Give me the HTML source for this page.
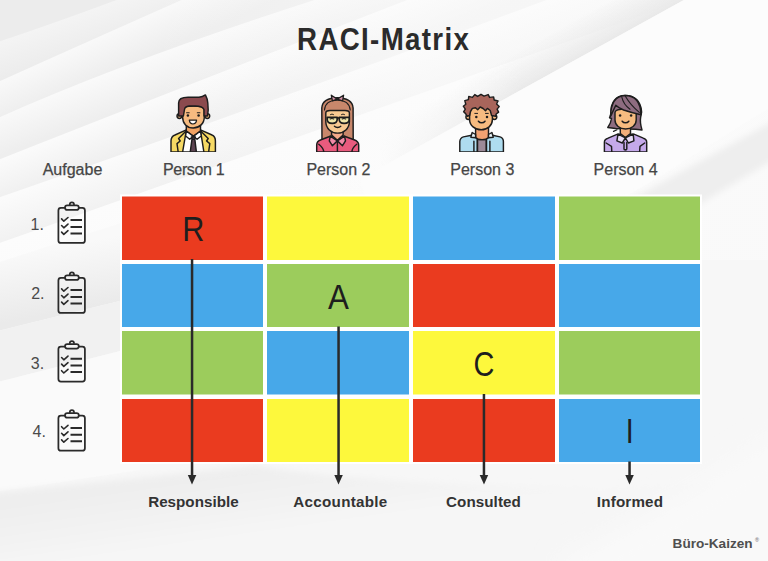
<!DOCTYPE html>
<html><head><meta charset="utf-8"><title>RACI-Matrix</title>
<style>
html,body{margin:0;padding:0;width:768px;height:561px;overflow:hidden;background:#f3f3f3;}
svg{display:block;position:absolute;left:0;top:0;}
text{font-family:"Liberation Sans",sans-serif;}
</style></head><body>
<svg width="768" height="561" viewBox="0 0 768 561">
<defs>
<filter id="b12" x="-20%" y="-20%" width="140%" height="140%"><feGaussianBlur stdDeviation="12"/></filter>
<filter id="b1" x="-5%" y="-5%" width="110%" height="110%"><feGaussianBlur stdDeviation="0.6"/></filter>
<filter id="b3" x="-10%" y="-10%" width="120%" height="120%"><feGaussianBlur stdDeviation="3"/></filter>
<linearGradient id="g0" gradientUnits="userSpaceOnUse" x1="52.5" y1="23.2" x2="65.8" y2="61.0"><stop offset="0" stop-color="#f4f4f4"/><stop offset="1" stop-color="#ebebeb"/></linearGradient>
<linearGradient id="g1" gradientUnits="userSpaceOnUse" x1="83.8" y1="43.5" x2="99.2" y2="78.2"><stop offset="0" stop-color="#f9f9f9"/><stop offset="1" stop-color="#ededed"/></linearGradient>
<linearGradient id="g2" gradientUnits="userSpaceOnUse" x1="137.5" y1="61.2" x2="151.5" y2="98.7"><stop offset="0" stop-color="#fafafa"/><stop offset="1" stop-color="#eeeeee"/></linearGradient>
<linearGradient id="g3" gradientUnits="userSpaceOnUse" x1="185.0" y1="86.5" x2="199.6" y2="123.8"><stop offset="0" stop-color="#fbfbfb"/><stop offset="1" stop-color="#efefef"/></linearGradient>
<linearGradient id="g4" gradientUnits="userSpaceOnUse" x1="235.0" y1="113.8" x2="251.3" y2="158.9"><stop offset="0" stop-color="#fbfbfb"/><stop offset="1" stop-color="#f0f0f0"/></linearGradient>
<linearGradient id="g5" gradientUnits="userSpaceOnUse" x1="300.0" y1="136.2" x2="366.8" y2="324.8"><stop offset="0" stop-color="#fcfcfc"/><stop offset="1" stop-color="#f7f7f7"/></linearGradient>
</defs>
<rect x="0" y="0" width="768" height="561" fill="#ececec"/>
<g filter="url(#b1)">
<path d="M-20 48 Q50 25 130 -5 L900 -5 L900 700 L-20 700 Z" fill="url(#g0)"/>
<path d="M-20 90 Q80 45 195 -6 L900 -5 L900 700 L-20 700 Z" fill="url(#g1)"/>
<path d="M-20 126 Q120 62 330 -5 L900 -5 L900 700 L-20 700 Z" fill="url(#g2)"/>
<path d="M-20 167 Q170 92 420 -5 L900 -5 L900 700 L-20 700 Z" fill="url(#g3)"/>
<path d="M-20 204 Q200 128 560 -5 L900 -5 L900 700 L-20 700 Z" fill="url(#g4)"/>
<path d="M-20 250 Q260 150 700 -5 L900 -5 L900 700 L-20 700 Z" fill="url(#g5)"/>
</g>

<linearGradient id="wfade" gradientUnits="userSpaceOnUse" x1="150" y1="0" x2="420" y2="0"><stop offset="0" stop-color="#fcfcfc" stop-opacity="0"/><stop offset="1" stop-color="#fcfcfc" stop-opacity="0.55"/></linearGradient>
<rect x="150" y="0" width="650" height="260" fill="url(#wfade)"/>
<linearGradient id="r1" gradientUnits="userSpaceOnUse" x1="531" y1="84.5" x2="514" y2="54"><stop offset="0" stop-color="#e9e9e9"/><stop offset="1" stop-color="#e9e9e9" stop-opacity="0"/></linearGradient>
<linearGradient id="r1f" gradientUnits="userSpaceOnUse" x1="380" y1="0" x2="520" y2="0"><stop offset="0" stop-color="#fff" stop-opacity="0"/><stop offset="1" stop-color="#fff" stop-opacity="1"/></linearGradient>
<mask id="m1"><rect x="0" y="0" width="768" height="561" fill="url(#r1f)"/></mask>
<path d="M360 179 L702 -10 L682.6 -45 L340.6 144 Z" fill="url(#r1)" mask="url(#m1)" filter="url(#b1)"/>
<path d="M702 -10 L800 -10 L800 90 C730 130 660 180 600 210 L380 250 L360 179 Z" fill="#fcfcfc" filter="url(#b1)"/>
<path d="M600 216.5 L800 106.5 L800 144 L600 264 Z" fill="#eeeeee" filter="url(#b3)"/>
<linearGradient id="l1" gradientUnits="userSpaceOnUse" x1="40" y1="250" x2="52" y2="314"><stop offset="0" stop-color="#f9f9f9"/><stop offset="1" stop-color="#eaeaea"/></linearGradient>
<path d="M-10 265 L140 217 L140 296 L-10 333 Z" fill="url(#l1)" filter="url(#b1)"/>
<path d="M-10 333 L140 296 L140 346 L-10 384 Z" fill="#f1f1f1" filter="url(#b1)"/>
<path d="M-10 384 L140 346 L140 470 L-10 493 Z" fill="#fafafa" filter="url(#b1)"/>
<linearGradient id="lb" gradientUnits="userSpaceOnUse" x1="200" y1="475" x2="210" y2="545"><stop offset="0" stop-color="#eeeeee"/><stop offset="1" stop-color="#f6f6f6"/></linearGradient>
<path d="M-10 493 L256 466 C330 478 450 486 600 488 C680 486 740 482 800 480 L800 600 L-10 600 Z" fill="url(#lb)" filter="url(#b3)"/>
<g filter="url(#b12)">
<path d="M560 560 C640 520 720 470 800 420 L800 600 L560 600 Z" fill="#f9f9f9"/>
</g>
<!-- title -->
<text transform="translate(383,49.6) scale(0.87,1)" x="0" y="0" text-anchor="middle" font-size="31.8" font-weight="bold" fill="#2b2b2b" textLength="197.5" lengthAdjust="spacing">RACI-Matrix</text>
<!-- header labels -->
<g font-size="16" fill="#454545" stroke="#454545" stroke-width="0.25">
<text x="72.5" y="175.3" text-anchor="middle">Aufgabe</text>
<text x="193.8" y="175.3" text-anchor="middle" textLength="61.5" lengthAdjust="spacing">Person 1</text>
<text x="338.4" y="175.3" text-anchor="middle">Person 2</text>
<text x="482.3" y="175.3" text-anchor="middle">Person 3</text>
<text x="625.6" y="175.3" text-anchor="middle">Person 4</text>
</g>
<!-- persons -->
<clipPath id="pclip"><rect x="0" y="0" width="768" height="152"/></clipPath>
<g clip-path="url(#pclip)">
<g id="p1" stroke="#1d1d1d" stroke-width="1.45" stroke-linejoin="round" stroke-linecap="round">
<path d="M171 152 L171 141 C171 137.5 172.5 136 175 135 L186.3 129.8 L200.5 129.8 L212 135 C214.5 136 215.4 137.5 215.4 141 L215.4 152 Z" fill="#f6d964"/>
<path d="M186.3 130.5 L200.5 130.5 L203.9 152 L182.6 152 Z" fill="#ffffff"/>
<path d="M186.3 130.8 L178.6 138.5 L180.2 141 L177 143.6 L178.2 152 M200.5 130.8 L208.2 138.5 L206.6 141 L209.8 143.6 L208.6 152" fill="none"/>
<path d="M186.3 126 L200.5 126 L200.5 131 L193.4 136 L186.3 131 Z" fill="#f0a262"/>
<path d="M186.3 131 L193.4 136.3 L189.7 139.2 L185.6 136 Z M200.5 131 L193.4 136.3 L197.1 139.2 L201.2 136 Z" fill="#ffffff"/>
<path d="M191.4 136.9 L195.4 136.9 L194.8 139.2 L192 139.2 Z M192 139.2 L194.8 139.2 L196.4 152 L190.2 152 Z" fill="#5e4552"/>
<circle cx="179.4" cy="116" r="2.4" fill="#f6bb80"/>
<circle cx="207.3" cy="116" r="2.4" fill="#f6bb80"/>
<path d="M182.6 110 C182.6 107 186 106 193.2 106 C200.4 106 204.3 107 204.3 110 L204.3 117 C204.3 123.5 199.5 127.9 193.2 127.9 C186.9 127.9 182.6 123.5 182.6 117 Z" fill="#f6bb80"/>
<path d="M178.6 116 L178.6 103 C178.6 99.5 182 97.3 188 97.3 L199 97.3 C201.5 97 203.8 96 205.4 94.9 C206.8 97.5 207.6 100 207.8 103 L208.2 110 L207.5 116 L204 116 L204 109.5 C203 107 200 106 195.4 106 L189 106 C186 106.3 184.7 107.5 184.5 109.5 L183.4 116 Z" fill="#8b4a4e"/>
<path d="M186.6 112.7 H189.2 M197.3 112.7 H199.9" fill="none" stroke-width="1.1"/>
<circle cx="187.9" cy="115.6" r="1.25" fill="#1d1d1d" stroke="none"/>
<circle cx="198.6" cy="115.6" r="1.25" fill="#1d1d1d" stroke="none"/>
<path d="M189.3 120.2 L196.6 120.2 C196.2 122.8 194.6 124 192.95 124 C191.3 124 189.7 122.8 189.3 120.2 Z" fill="#ffffff" stroke-width="1.2"/>
</g>

<g id="p2" stroke="#1d1d1d" stroke-width="1.45" stroke-linejoin="round" stroke-linecap="round">
<path d="M322 140.5 L321.8 108 C322 101.5 328 97.7 337.3 97.7 C346.6 97.7 352.8 101.5 353.1 108 L353.2 140.5 Z" fill="#c8876b"/>
<path d="M324.5 110 C325 103.5 330 100.3 337.3 100.3 C344.6 100.3 349.6 103.5 350.2 110" fill="none" stroke-width="1.1"/>
<path d="M331.3 95.2 L337.2 99.1 L343.6 95.2 L342.6 100.8 L337.2 99.1 L332.4 100.8 Z" fill="#d996ab" stroke-width="1.3"/>
<path d="M316.7 152 L316.7 145 C316.7 142 318.5 140.7 321 139.8 L330.3 136.2 L344.5 136.2 L354 139.8 C356.5 140.7 358.7 142 358.7 145 L358.7 152 Z" fill="#e95b7e"/>
<path d="M318.8 144.3 C321.5 146.5 323.5 148.5 323.8 152 M356.7 144.3 C354 146.5 352 148.5 351.9 152 M337.4 141 L337.4 151.5" fill="none"/>
<path d="M331.6 130 L343.1 130 L343.1 135 L337.4 140.2 L331.6 135 Z" fill="#f4a98a"/>
<path d="M330.3 136.2 L337.4 140.9 L332.3 145.7 L329.3 140.9 Z M344.5 136.2 L337.4 140.9 L342.5 145.7 L345.5 140.9 Z" fill="#f08aa6"/>
<path d="M325.8 113 C325.8 111 327 110.5 330 110.5 L345 110.5 C348 110.5 349.4 111 349.4 113 L349.4 121.5 C349.4 128.5 344 133.1 337.6 133.1 C331.2 133.1 325.8 128.5 325.8 121.5 Z" fill="#f8ca92"/>
<path d="M330.5 114.6 C331.5 114 332.5 114 333.5 114.6 M341.5 114.6 C342.5 114 343.5 114 344.5 114.6" fill="none" stroke-width="1"/>
<path d="M327.2 117.3 L337.2 117.3 L337.2 119.3 C337.2 122 335.2 123.4 332.2 123.4 C329.2 123.4 327.2 122 327.2 119.3 Z" fill="#f0e6a8" stroke-width="1.7"/>
<path d="M339.2 117.3 L349.2 117.3 L349.2 119.3 C349.2 122 347.2 123.4 344.2 123.4 C341.2 123.4 339.2 122 339.2 119.3 Z" fill="#f0e6a8" stroke-width="1.7"/>
<path d="M337.2 118 L339.4 118" fill="none"/>
<path d="M330.2 119 C331.3 118.3 332.6 118.3 333.7 119 M342.2 119 C343.3 118.3 344.6 118.3 345.7 119" fill="none" stroke-width="1.1"/>
<path d="M334.4 126.2 C336 127.9 339.2 127.9 340.8 126.2" fill="none" stroke-width="1.3"/>
</g>

<g id="p3" stroke="#1d1d1d" stroke-width="1.45" stroke-linejoin="round" stroke-linecap="round">
<path d="M459.8 152 L459.8 141.6 C460 138.8 461.5 137.5 463.4 136.9 L471.6 135.2 L492.6 135.2 L500 136.9 C502 137.5 503.4 138.8 503.4 141.6 L503.4 152 Z" fill="#aedcef"/>
<path d="M477.5 139.5 L486.3 139.5 L486.3 152 L477.5 152 Z" fill="#9c8a98"/>
<path d="M477.3 137 L477.3 152 M486.5 137 L486.5 152 M473.9 141.3 L473.9 152 M489.9 141.3 L489.9 152" fill="none"/>
<path d="M475.6 127.5 L488.5 127.5 L488.5 137.5 C486 140.3 478 140.3 475.6 137.5 Z" fill="#f2a272"/>
<path d="M472.2 132.5 L475.6 134.5 L475.6 137.8 L470.8 137.2 Z M491.9 132.5 L488.5 134.5 L488.5 137.8 L493.3 137.2 Z" fill="#e9f6fb"/>
<circle cx="468.3" cy="117" r="2.4" fill="#f6bb80"/>
<circle cx="494.4" cy="117" r="2.4" fill="#f6bb80"/>
<path d="M469.6 111 C469.6 107.5 474 106.5 481 106.5 C488 106.5 492.4 107.5 492.4 111 L492.4 119.5 C492.4 125.5 487.5 129.8 481.2 129.8 C474.9 129.8 469.6 125.5 469.6 119.5 Z" fill="#f6bb80"/>
<path d="M467.2 116.2 L465.4 113.4 L463.6 111.8 L465.3 109.2 L463.3 106.2 L465.8 104.2 L464.8 100.6 L468.4 99.6 L468.8 96.4 L472.4 97.4 L474.8 94.6 L477.6 96.4 L481 94.3 L484 96.1 L488.2 94.6 L489.6 97.4 L493.6 96.9 L494.2 100 L498 101 L496.6 104 L499.2 106.6 L497.1 109.1 L498.6 112.1 L496.2 114 L495.6 116.2 L491.6 115.5 L490.2 110.5 L487.4 108.4 L485.5 110.8 L483.1 108.5 L480.2 107 L477.7 109.8 L475.5 107.8 L472.4 108.4 L470.5 111.5 L469.6 115.5 Z" fill="#a8655b"/>
<path d="M474.8 113.4 H477.6 M485.5 113.4 H488.3" fill="none" stroke-width="1"/>
<circle cx="476.3" cy="117" r="1.25" fill="#1d1d1d" stroke="none"/>
<circle cx="487" cy="117" r="1.25" fill="#1d1d1d" stroke="none"/>
<path d="M478.4 121.2 C480 123.4 483.4 123.4 485 121.2" fill="none" stroke-width="1.5"/>
</g>

<g id="p4" stroke="#1d1d1d" stroke-width="1.45" stroke-linejoin="round" stroke-linecap="round">
<path d="M611 113 C610.5 102 616 95.5 625.2 95.5 C634.5 95.5 641 101 641.6 112 L640.6 117.5 C640 121 640.8 126 642 130 L635.5 129.2 L615.6 128.5 L607.8 127.5 C609.8 124.5 611.2 121.5 611.5 118.5 L609.5 117.8 C610.2 116 611 114.5 611 113 Z" fill="#8e6c80"/>
<path d="M604.4 152 L604.4 142.3 C604.4 140 605.8 138.8 608.1 138.2 L617.6 134.2 L633.9 134.2 L643.3 138.2 C645.5 138.8 646.7 140 646.7 142.3 L646.7 152 Z" fill="#c5a9ea"/>
<path d="M606.1 143 L611.5 146.3 L611.8 152 M644.7 143 L640 146.3 L639.6 152" fill="none"/>
<path d="M620.3 128 L630.5 128 L630.5 133.5 L625.4 137.5 L620.3 133.5 Z" fill="#f2ae7a"/>
<path d="M618 134.2 L625.4 137.9 L622.3 143 L616.9 140.9 Z M633.2 134.2 L625.4 137.9 L628.4 143 L633.9 140.9 Z" fill="#e9ddf7"/>
<path d="M624 142.5 L624 149 C624 150.2 626.8 150.2 626.8 149 L626.8 142.5" fill="#c5a9ea"/>
<path d="M615 112.5 C615 110 618 109 625.6 109 C633.2 109 636.2 110 636.2 112.5 L636.2 120 C636.2 125.5 631.5 128.9 625.6 128.9 C619.7 128.9 615 125.5 615 120 Z" fill="#f6bb80"/>
<path d="M610.5 116.5 C610.8 103 616 95.8 625 95.5 C634 95.5 640.5 101 641 114.7 C635 113.5 628 111.5 623.6 110 C620 108.5 617.5 107 615.8 105.3 C614 108.5 612.5 112.5 610.5 116.5 Z" fill="#8e6c80"/>
<path d="M621.8 97.2 C623 102.5 626 106.5 630 109.3 M625.5 96.5 C629 102.5 634 108 639.3 112.4" fill="none" stroke-width="1.1"/>
<path d="M613.5 131.4 L617 129.8" fill="none" stroke-width="1.2"/>
<circle cx="620.1" cy="115.6" r="1.25" fill="#1d1d1d" stroke="none"/>
<circle cx="631.1" cy="115.6" r="1.25" fill="#1d1d1d" stroke="none"/>
<path d="M622.2 121.2 C623.8 123.4 627.2 123.4 628.8 121.2" fill="none" stroke-width="1.5"/>
</g>

</g>
<!-- grid -->
<rect x="120" y="194.5" width="582" height="269.5" fill="#ffffff"/>
<g>
<rect x="122" y="196.5" width="141" height="63.5" fill="#ea3b1f"/>
<rect x="267" y="196.5" width="142" height="63.5" fill="#fdf83c"/>
<rect x="413" y="196.5" width="142" height="63.5" fill="#47a8e9"/>
<rect x="559" y="196.5" width="141" height="63.5" fill="#9ccc5c"/>

<rect x="122" y="264" width="141" height="63" fill="#47a8e9"/>
<rect x="267" y="264" width="142" height="63" fill="#9ccc5c"/>
<rect x="413" y="264" width="142" height="63" fill="#ea3b1f"/>
<rect x="559" y="264" width="141" height="63" fill="#47a8e9"/>

<rect x="122" y="331" width="141" height="63.5" fill="#9ccc5c"/>
<rect x="267" y="331" width="142" height="63.5" fill="#47a8e9"/>
<rect x="413" y="331" width="142" height="63.5" fill="#fdf83c"/>
<rect x="559" y="331" width="141" height="63.5" fill="#9ccc5c"/>

<rect x="122" y="399" width="141" height="63" fill="#ea3b1f"/>
<rect x="267" y="399" width="142" height="63" fill="#fdf83c"/>
<rect x="413" y="399" width="142" height="63" fill="#ea3b1f"/>
<rect x="559" y="399" width="141" height="63" fill="#47a8e9"/>
</g>
<!-- letters -->
<g font-size="35.6" fill="#1e1e1e" text-anchor="middle">
<text transform="translate(193.2,241.1) scale(0.86,1)">R</text>
<text transform="translate(338.5,309) scale(0.88,1)">A</text>
<text transform="translate(484,376) scale(0.81,1)">C</text>
</g>
<text transform="translate(629.6,443) scale(0.8,1)" font-size="35.6" fill="#1e1e1e" text-anchor="middle">I</text>
<!-- arrows -->
<g fill="#2a2a2a">
<rect x="190.8" y="259" width="2.5" height="217"/>
<path d="M187.8 475 L196.3 475 L192 484.5 Z"/>
<rect x="337.3" y="326.5" width="2.5" height="149.5"/>
<path d="M334.3 475 L342.8 475 L338.5 484.5 Z"/>
<rect x="482.7" y="394" width="2.5" height="82"/>
<path d="M479.7 475 L488.2 475 L484 484.5 Z"/>
<rect x="628.3" y="461.5" width="2.5" height="14.5"/>
<path d="M625.3 475 L633.8 475 L629.5 484.5 Z"/>
</g>
<!-- bottom labels -->
<g font-size="15.2" font-weight="bold" fill="#333" text-anchor="middle">
<text x="193.4" y="507" textLength="90.5" lengthAdjust="spacing">Responsible</text>
<text x="340.3" y="507" textLength="94" lengthAdjust="spacing">Accountable</text>
<text x="483.4" y="507.4" textLength="74.8" lengthAdjust="spacing">Consulted</text>
<text x="629.9" y="507.3" textLength="66.2" lengthAdjust="spacing">Informed</text>
</g>
<text x="712.6" y="548.3" text-anchor="middle" font-size="13.6" font-weight="bold" fill="#4f4f4f">Büro-Kaizen</text>
<text x="757" y="542.3" text-anchor="middle" font-size="5.5" fill="#666">®</text>
<g id="clip1" fill="none" stroke="#2a2a2a" stroke-width="1.75" stroke-linecap="round" stroke-linejoin="round">
<rect x="58.4" y="207.9" width="26.5" height="35" rx="2.5"/>
<path d="M69.8 204.5 A2.1 2.1 0 0 1 74 204.5" fill="#f4f4f4"/>
<rect x="65" y="205.4" width="13.8" height="4.5" rx="2.25" fill="#f4f4f4"/>
<path d="M61.6 218.9 L63.8 221.2 L68 217.5 M61.6 225.5 L63.8 227.8 L68 224.1 M61.6 232.1 L63.8 234.4 L68 230.7" stroke-width="1.6"/>
<path d="M70.5 220.1 H82 M70.5 227 H82 M70.5 233.5 H82" stroke-width="2" stroke-linecap="butt"/>
</g>
<use href="#clip1" transform="translate(0,70)"/>
<use href="#clip1" transform="translate(0,138.6)"/>
<use href="#clip1" transform="translate(0,207.8)"/>
<!-- row numbers -->
<g font-size="16" fill="#4a4a4a">
<text x="30.6" y="229.5">1.</text>
<text x="31.2" y="298.8">2.</text>
<text x="30.8" y="368.8">3.</text>
<text x="32.5" y="436.9">4.</text>
</g>
</svg>
</body></html>
